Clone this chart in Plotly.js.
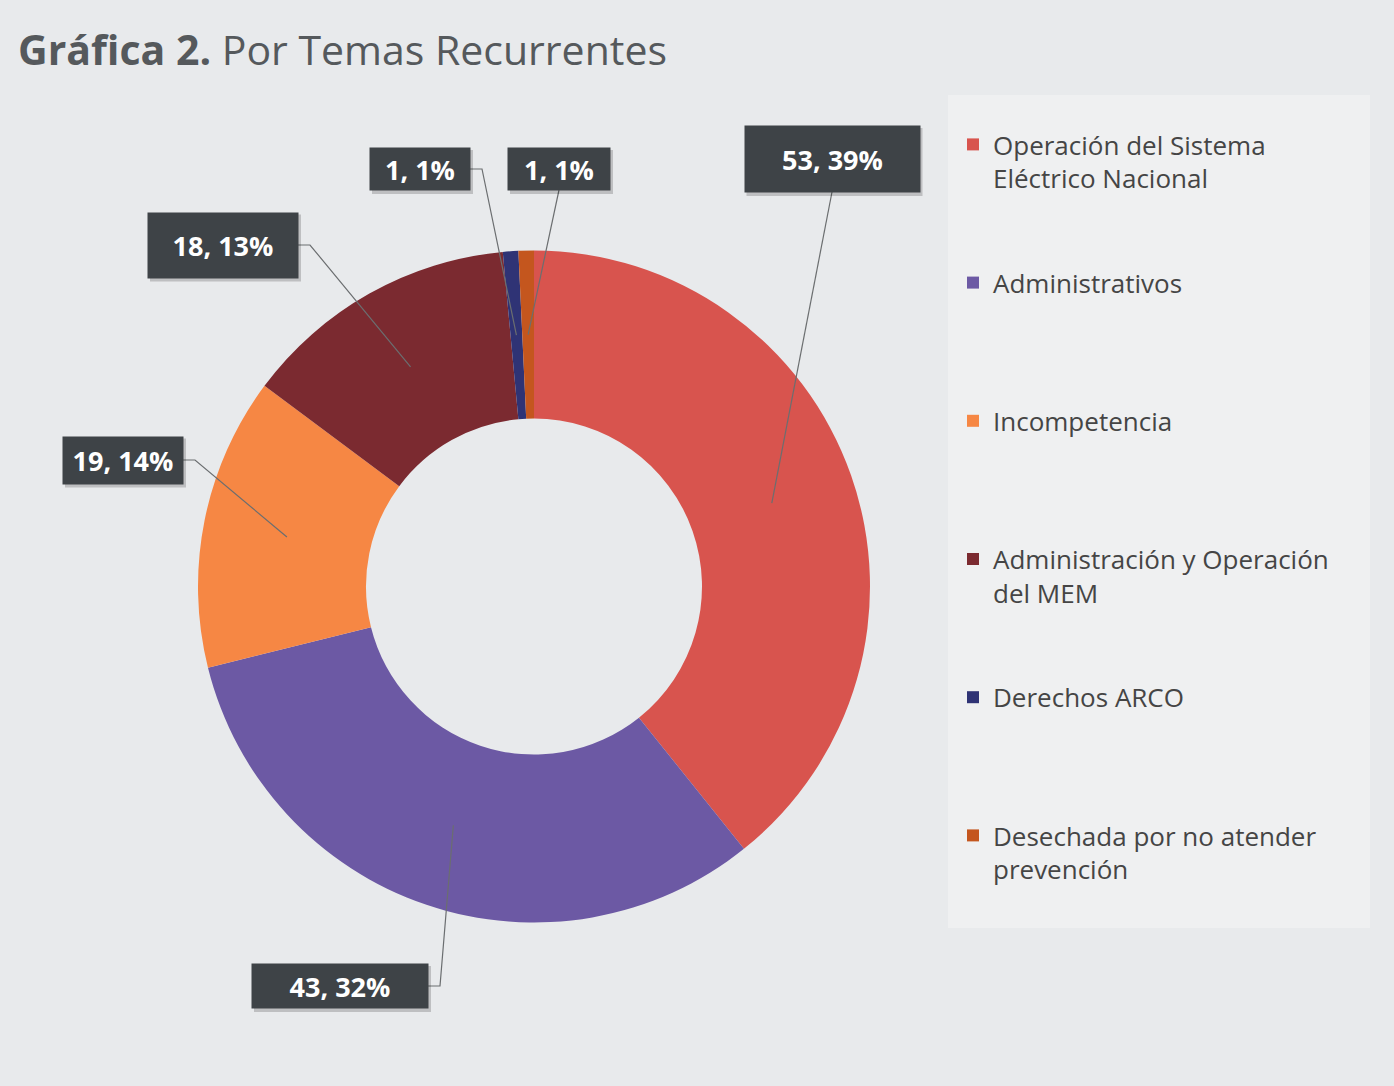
<!DOCTYPE html>
<html>
<head>
<meta charset="utf-8">
<script src="https://cdn.plot.ly/plotly-3.0.1.min.js"></script>
<style>
  html, body { margin: 0; padding: 0; background: #e8eaec; }
  #chart { width: 1394px; height: 1086px; }
</style>
</head>
<body>
<div id="chart"></div>
<script>
// data
var categories = [
  "Operación del Sistema<br>Eléctrico Nacional",
  "Administrativos",
  "Incompetencia",
  "Administración y Operación<br>del MEM",
  "Derechos ARCO",
  "Desechada por no atender<br>prevención",
];
var counts = [53, 43, 19, 18, 1, 1];
var sliceColors = ["#d8544e", "#6c59a4", "#f68744", "#7b2a30", "#2f3375", "#c4561e"];

// where the dark value boxes sit (px), and how the leader leaves the box
var boxCx = [832, 340, 123, 223, 420, 559];
var boxCy = [159, 986, 460, 245, 169, 169];
var boxW = [175, 176, 120, 150, 100, 102];
var boxH = [66, 44, 47, 65, 42, 42];
var leaderSide = ["bottom", "right", "right", "right", "right", "bottom"];

var W = 1394, H = 1086;
// pie square in px
var pieLeft = 198, pieRight = 870, pieTop = 250, pieBottom = 923;
var hole = 0.5;

var cx = (pieLeft + pieRight) / 2;
var cy = (pieTop + pieBottom) / 2;
var R = (pieRight - pieLeft) / 2;

var total = counts.reduce((s, v) => s + v, 0);

// pad every legend entry to 4 lines so the items are evenly spaced
var legendLabels = categories.map((c) => {
  var n = c.split("<br>").length;
  var s = c;
  for (var k = n; k < 4; k++) s += "<br>&nbsp;";
  return s;
});

var px = (x) => x / W;
var py = (y) => 1 - y / H;

var annotations = [];
var shapes = [
  // lighter legend panel
  {
    type: "rect", xref: "paper", yref: "paper", layer: "below",
    x0: px(948), x1: px(1370), y0: py(928), y1: py(95),
    fillcolor: "#eff0f1", line: { width: 0 },
  },
];

var cum = 0;
counts.forEach((v, i) => {
  var mid = ((cum + v / 2) / total) * 2 * Math.PI; // clockwise from 12 o'clock
  cum += v;
  var rMid = R * (1 + hole) / 2;
  var tipX = cx + rMid * Math.sin(mid);
  var tipY = cy - rMid * Math.cos(mid);

  var path;
  if (leaderSide[i] === "right") {
    var sx = boxCx[i] + boxW[i] / 2;
    var sy = boxCy[i];
    path = "M" + px(sx) + "," + py(sy) + " L" + px(sx + 12) + "," + py(sy) +
      " L" + px(tipX) + "," + py(tipY);
  } else {
    var bx = boxCx[i];
    var by = boxCy[i] + boxH[i] / 2;
    path = "M" + px(bx) + "," + py(by) + " L" + px(tipX) + "," + py(tipY);
  }
  shapes.push({
    type: "path", xref: "paper", yref: "paper", path: path,
    line: { color: "#6b6e70", width: 1.2 },
  });

  // soft drop shadow behind the box
  shapes.push({
    type: "rect", xref: "paper", yref: "paper",
    x0: px(boxCx[i] - boxW[i] / 2 + 2), x1: px(boxCx[i] + boxW[i] / 2 + 3),
    y0: py(boxCy[i] + boxH[i] / 2 + 4), y1: py(boxCy[i] - boxH[i] / 2 + 2),
    fillcolor: "rgba(0,0,0,0.18)", line: { width: 0 },
  });

  var pct = Math.round((v / total) * 100);
  annotations.push({
    xref: "paper", yref: "paper",
    x: px(boxCx[i]), y: py(boxCy[i]),
    xanchor: "center", yanchor: "middle",
    width: boxW[i], height: boxH[i],
    text: "<b>" + v + ", " + pct + "%</b>",
    showarrow: false,
    bgcolor: "#3e4347",
    borderpad: 0,
    font: { family: "Open Sans, sans-serif", size: 27, color: "#ffffff" },
  });
});

var data = [
  {
    type: "pie",
    labels: legendLabels,
    values: counts,
    sort: false,
    direction: "clockwise",
    rotation: 0,
    hole: hole,
    textinfo: "none",
    hoverinfo: "label+value+percent",
    marker: { colors: sliceColors, line: { width: 0 } },
    domain: { x: [px(pieLeft), px(pieRight)], y: [py(pieBottom), py(pieTop)] },
  },
];

var layout = {
  width: W,
  height: H,
  margin: { l: 0, r: 0, t: 0, b: 0 },
  paper_bgcolor: "#e8eaec",
  plot_bgcolor: "rgba(0,0,0,0)",
  font: { family: "Open Sans, sans-serif", color: "#454545" },
  title: {
    text: "<b>Gráfica 2.</b> Por Temas Recurrentes",
    x: px(18), xanchor: "left", xref: "paper",
    y: py(51), yanchor: "middle", yref: "paper",
    font: { family: "Open Sans, sans-serif", size: 41, color: "#55595c" },
  },
  showlegend: true,
  legend: {
    x: px(953), xanchor: "left",
    y: py(121), yanchor: "top",
    valign: "top",
    bgcolor: "rgba(0,0,0,0)",
    font: { family: "Open Sans, sans-serif", size: 26, color: "#454545" },
  },
  shapes: shapes,
  annotations: annotations,
};

Plotly.newPlot("chart", data, layout, { displayModeBar: false, staticPlot: true });
</script>
</body>
</html>
